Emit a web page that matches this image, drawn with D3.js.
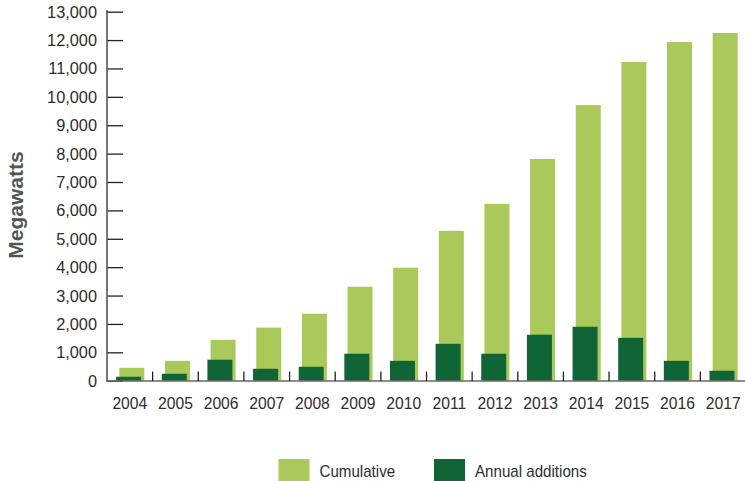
<!DOCTYPE html>
<html>
<head>
<meta charset="utf-8">
<script src="https://cdn.jsdelivr.net/npm/d3@7/dist/d3.min.js"></script>
<style>
  html, body { margin: 0; padding: 0; background: #fff; }
  svg { display: block; }
  text { font-family: "Liberation Sans", Arial, sans-serif; fill: #2e2e2e; }
</style>
</head>
<body>
<svg id="chart" width="745" height="481"></svg>
<script>
const years = ["2004","2005","2006","2007","2008","2009","2010","2011","2012","2013","2014","2015","2016","2017"];
const cumulative = [455, 700, 1440, 1870, 2360, 3310, 3980, 5280, 6230, 7810, 9710, 11230, 11930, 12250];
const annual = [140, 245, 740, 420, 490, 950, 700, 1300, 950, 1620, 1900, 1510, 700, 350];
const yTicks = [0,1000,2000,3000,4000,5000,6000,7000,8000,9000,10000,11000,12000,13000];
const seriesNames = ["Cumulative", "Annual additions"];
const colors = ["#a9c95a", "#0f6536"];

const svg = d3.select("#chart");
const x = d3.scaleBand().domain(years).range([107, 746]);
const y = d3.scaleLinear().domain([0, 13000]).range([380.7, 11.7]);
const barW = 25;

// cumulative bars
svg.append("g").selectAll("rect").data(years).join("rect")
  .attr("x", (d) => x(d) + x.bandwidth()/2 - barW/2 + 2)
  .attr("y", (d, i) => y(cumulative[i]))
  .attr("width", barW)
  .attr("height", (d, i) => y(0) - y(cumulative[i]))
  .attr("fill", colors[0]);

// annual bars
svg.append("g").selectAll("rect").data(years).join("rect")
  .attr("x", (d) => x(d) + x.bandwidth()/2 - barW/2 - 1.2)
  .attr("y", (d, i) => y(annual[i]))
  .attr("width", barW)
  .attr("height", (d, i) => y(0) - y(annual[i]))
  .attr("fill", colors[1]);

// y axis
const yAxis = d3.axisRight(y).tickValues(yTicks).tickSize(16).tickFormat("");
const gy = svg.append("g").attr("transform", "translate(107,0)").call(yAxis);
gy.select(".domain").remove();
gy.selectAll(".tick line").attr("stroke", "#222").attr("stroke-width", 1.3);
svg.append("line").attr("x1", 107).attr("x2", 107).attr("y1", 10).attr("y2", 381.5)
  .attr("stroke", "#555").attr("stroke-width", 1.6);

svg.append("g").selectAll("text").data(yTicks).join("text")
  .attr("transform", (d) => `translate(97,${y(d) + 6}) scale(0.96,1)`)
  .attr("text-anchor", "end").attr("font-size", 17)
  .text((d) => d3.format(",")(d));

// x axis
svg.append("line").attr("x1", 106).attr("x2", 745).attr("y1", 381).attr("y2", 381)
  .attr("stroke", "#666").attr("stroke-width", 1.4);
svg.append("g").selectAll("line").data(years.slice(1)).join("line")
  .attr("x1", (d) => x(d)).attr("x2", (d) => x(d))
  .attr("y1", 371.5).attr("y2", 381)
  .attr("stroke", "#222").attr("stroke-width", 1.3);
svg.append("g").selectAll("text").data(years).join("text")
  .attr("transform", (d) => `translate(${x(d) + x.bandwidth()/2},408.5) scale(0.95,1)`)
  .attr("text-anchor", "middle").attr("font-size", 16.5)
  .text((d) => d);

// y title
svg.append("text")
  .attr("transform", "translate(23,205) rotate(-90)")
  .attr("text-anchor", "middle").attr("font-size", 21).attr("font-weight", "bold")
  .style("fill", "#555")
  .text("Megawatts");

// legend
const legendX = [278.5, 434];
const lg = svg.append("g").selectAll("g").data(seriesNames).join("g")
  .attr("transform", (d, i) => `translate(${legendX[i]},459)`);
lg.append("rect").attr("width", 31).attr("height", 22).attr("fill", (d, i) => colors[i]);
lg.append("text").attr("transform", "translate(41,18) scale(0.89,1)").attr("font-size", 17).text((d) => d);
</script>
</body>
</html>
